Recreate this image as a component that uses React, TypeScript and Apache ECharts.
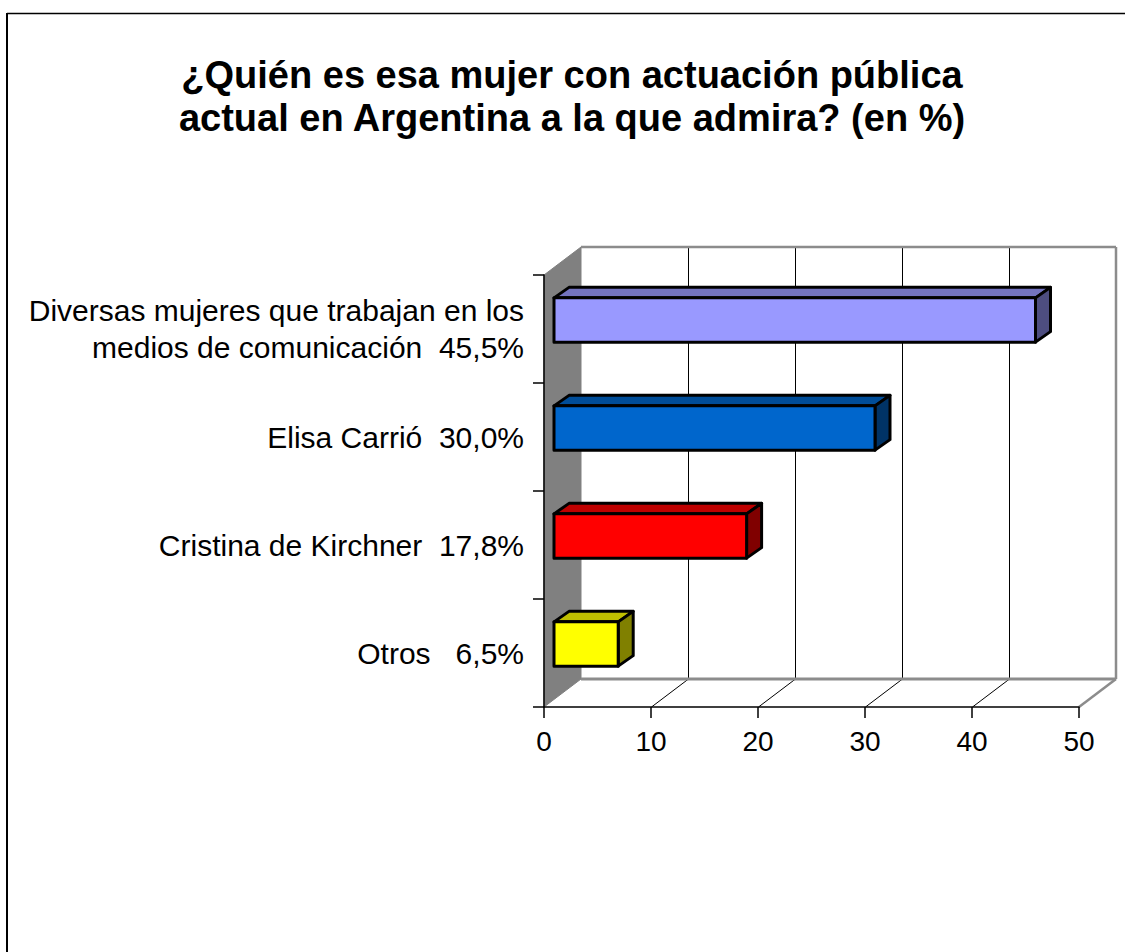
import React, { useEffect, useRef } from "react";
import * as echarts from "echarts";

const titleText = "¿Quién es esa mujer con actuación pública\nactual en Argentina a la que admira? (en %)";
const categories = [
  "Diversas mujeres que trabajan en los\nmedios de comunicación  45,5%",
  "Elisa Carrió  30,0%",
  "Cristina de Kirchner  17,8%",
  "Otros   6,5%",
];
const values = [45, 30, 18, 6];
const frontColors = ["#9999FF", "#0066CC", "#FF0000", "#FFFF00"];
const topColors = ["#7373BF", "#004D99", "#BF0000", "#BFBF00"];
const sideColors = ["#4D4D80", "#003366", "#800000", "#808000"];
const xMin = 0;
const xMax = 50;
const xInterval = 10;

const DX = 37;
const DY = -28;

export default function App() {
  const ref = useRef<HTMLDivElement>(null);
  useEffect(() => {
    if (!ref.current) return;
    const chart = echarts.init(ref.current, null, { renderer: "svg" });
    const font = "Arial, 'Liberation Sans', sans-serif";

    const wallsRender = (params: any, api: any) => {
      const cs = params.coordSys;
      const x0 = cs.x, y0 = cs.y, w = cs.width, h = cs.height;
      const x1 = x0 + w, yb = y0 + h;
      const children: any[] = [];
      children.push({
        type: "polygon",
        shape: { points: [[x0, y0], [x0 + DX, y0 + DY], [x0 + DX, yb + DY], [x0, yb]] },
        style: { fill: "#808080", stroke: "#808080", lineWidth: 1 },
      });
      for (let v = xMin + xInterval; v < xMax; v += xInterval) {
        const p = api.coord([v, 0]);
        const x = Math.round(p[0]) + 0.5;
        children.push({
          type: "line",
          shape: { x1: x + DX, y1: y0 + DY, x2: x + DX, y2: yb + DY },
          style: { stroke: "#000", lineWidth: 1 },
        });
        children.push({
          type: "line",
          shape: { x1: x, y1: yb, x2: x + DX, y2: yb + DY },
          style: { stroke: "#000", lineWidth: 1 },
        });
      }
      children.push({
        type: "line",
        shape: { x1: x0 + DX, y1: y0 + DY, x2: x1 + DX, y2: y0 + DY },
        style: { stroke: "#8c8c8c", lineWidth: 2.5 },
      });
      children.push({
        type: "line",
        shape: { x1: x1 + DX, y1: y0 + DY, x2: x1 + DX, y2: yb + DY },
        style: { stroke: "#8c8c8c", lineWidth: 2.5 },
      });
      children.push({
        type: "line",
        shape: { x1: x0 + DX, y1: yb + DY, x2: x1 + DX, y2: yb + DY },
        style: { stroke: "#8c8c8c", lineWidth: 3 },
      });
      children.push({
        type: "line",
        shape: { x1: x1, y1: yb, x2: x1 + DX, y2: yb + DY },
        style: { stroke: "#8c8c8c", lineWidth: 2.5 },
      });
      return { type: "group", children };
    };

    const barsRender = (params: any, api: any) => {
      const idx = api.value(1);
      const val = api.value(0);
      const i = params.dataIndex;
      const s = api.coord([0, idx]);
      const e = api.coord([val, idx]);
      const band = api.size([0, 1])[1];
      const hh = band * 0.41 / 2;
      const fx = 10, fy = -9;
      const bx = 15, by = -10.5;
      const xa = s[0] + fx, xb = e[0] + fx;
      const yc = s[1] + fy;
      const top = yc - hh, bot = yc + hh;
      const stroke = { stroke: "#000", lineWidth: 3, lineJoin: "round" };
      return {
        type: "group",
        children: [
          {
            type: "polygon",
            shape: { points: [[xa, top], [xb, top], [xb + bx, top + by], [xa + bx, top + by]] },
            style: { fill: topColors[i], ...stroke },
          },
          {
            type: "polygon",
            shape: { points: [[xb, top], [xb + bx, top + by], [xb + bx, bot + by], [xb, bot]] },
            style: { fill: sideColors[i], ...stroke },
          },
          {
            type: "rect",
            shape: { x: xa, y: top, width: xb - xa, height: bot - top },
            style: { fill: frontColors[i], ...stroke },
          },
        ],
      };
    };

    chart.setOption({
      animation: false,
      backgroundColor: "#ffffff",
      grid: { left: 544, top: 275, width: 535, height: 432, containLabel: false },
      xAxis: {
        type: "value",
        min: xMin,
        max: xMax,
        interval: xInterval,
        z: 10,
        axisLine: { show: true, lineStyle: { color: "#000", width: 1.5 } },
        axisTick: { show: true, length: 11, lineStyle: { color: "#000", width: 1.5 } },
        splitLine: { show: false },
        axisLabel: { color: "#000", fontSize: 28, fontFamily: font, margin: 20 },
      },
      yAxis: {
        type: "category",
        data: categories,
        inverse: true,
        z: 10,
        axisLine: { show: true, lineStyle: { color: "#000", width: 1.5 } },
        axisTick: { show: true, length: 11, lineStyle: { color: "#000", width: 1.5 } },
        splitLine: { show: false },
        axisLabel: {
          color: "#000",
          fontSize: 30,
          fontFamily: font,
          margin: 20,
          lineHeight: 37,
          align: "right",
        },
      },
      series: [
        {
          type: "custom",
          silent: true,
          z: 1,
          renderItem: wallsRender,
          data: [[0, 0]],
          encode: { x: 0, y: 1 },
        },
        {
          type: "custom",
          silent: true,
          z: 3,
          renderItem: barsRender,
          data: values.map((v, i) => [v, i]),
          encode: { x: 0, y: 1 },
        },
      ],
      graphic: [
        {
          type: "line",
          shape: { x1: 7, y1: 13.5, x2: 1125, y2: 13.5 },
          style: { stroke: "#000", lineWidth: 1.5 },
        },
        {
          type: "line",
          shape: { x1: 7, y1: 13, x2: 7, y2: 952 },
          style: { stroke: "#000", lineWidth: 2 },
        },
        {
          type: "text",
          x: 572,
          y: 96,
          style: {
            text: titleText,
            align: "center",
            verticalAlign: "middle",
            fontSize: 38,
            fontWeight: "bold",
            fontFamily: font,
            lineHeight: 43,
            fill: "#000",
          },
        },
      ],
    });
    return () => chart.dispose();
  }, []);
  return (
    <div
      ref={ref}
      style={{ position: "fixed", left: 0, top: 0, width: 1125, height: 952, background: "#fff" }}
    />
  );
}
